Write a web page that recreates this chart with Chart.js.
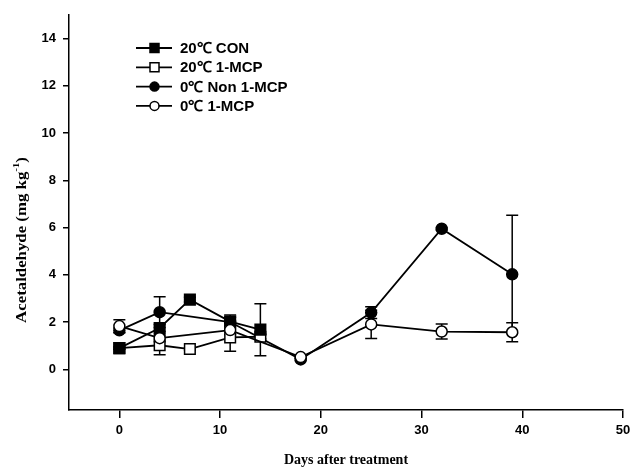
<!DOCTYPE html>
<html>
<head>
<meta charset="utf-8">
<script src="https://cdn.jsdelivr.net/npm/chart.js@4.4.0/dist/chart.umd.min.js"></script>
<style>
  html, body { margin: 0; padding: 0; background: #fff; }
</style>
</head>
<body>
<canvas id="myChart" width="632" height="469"></canvas>
<script>
// values
const seriesNames = ['20℃ CON', '20℃ 1-MCP', '0℃ Non 1-MCP', '0℃ 1-MCP'];

const days20 = [0, 4, 7, 11, 14];
const days0 = [0, 4, 11, 18, 25, 32, 39];

const con20 = [0.9, 1.75, 2.95, 2.02, 1.68];
const con20Err = [0.05, 0.15, 0.1, 0.28, 1.1];
const mcp20 = [0.9, 1.02, 0.86, 1.35, 1.38];
const mcp20Err = [0.05, 0.4, 0.05, 0.58, 0.1];
const non0 = [1.65, 2.42, 2.0, 0.42, 2.4, 5.95, 4.02];
const non0Err = [0.1, 0.65, 0.2, 0.05, 0.25, 0.05, 2.5];
const mcp0 = [1.83, 1.32, 1.66, 0.52, 1.9, 1.6, 1.57];
const mcp0Err = [0.27, 0.15, 0.2, 0.05, 0.6, 0.32, 0.4];

const xTicks = [0, 10, 20, 30, 40, 50];
const yTicks = [0, 2, 4, 6, 8, 10, 12, 14];

const points = (days, vals) => days.map((d, i) => ({ x: d, y: vals[i] }));

const makeSet = (label, days, vals, errs, style, filled, radius, order) => ({
  label: label,
  data: points(days, vals),
  errors: errs,
  borderColor: '#000',
  borderWidth: 1.8,
  pointStyle: style,
  pointRadius: radius,
  pointBorderWidth: 1.5,
  pointBorderColor: '#000',
  pointBackgroundColor: filled ? '#000' : '#fff',
  fill: false,
  tension: 0,
  order: order
});

const datasets = [
  makeSet(seriesNames[0], days20, con20, con20Err, 'rect', true, 7.5, 1),
  makeSet(seriesNames[1], days20, mcp20, mcp20Err, 'rect', false, 7.5, 1),
  makeSet(seriesNames[2], days0, non0, non0Err, 'circle', true, 5.5, 1),
  makeSet(seriesNames[3], days0, mcp0, mcp0Err, 'circle', false, 5.5, 0)
];

/**
 * error bars drawn under the markers
 */
const errorBars = {
  id: 'errorBars',
  beforeDatasetsDraw(chart) {
    const { ctx, scales: { x, y } } = chart;
    ctx.save();
    ctx.strokeStyle = '#000';
    ctx.lineWidth = 1.5;
    chart.data.datasets.forEach(ds => {
      ds.data.forEach((p, i) => {
        const e = ds.errors[i];
        if (!e) return;
        const px = x.getPixelForValue(p.x);
        const top = y.getPixelForValue(p.y + e);
        const bot = y.getPixelForValue(p.y - e);
        ctx.beginPath();
        ctx.moveTo(px, top); ctx.lineTo(px, bot);
        ctx.moveTo(px - 6, top); ctx.lineTo(px + 6, top);
        ctx.moveTo(px - 6, bot); ctx.lineTo(px + 6, bot);
        ctx.stroke();
      });
    });
    ctx.restore();
  }
};

/**
 * legend inside the plot + y title with superscript
 */
const insideLegend = {
  id: 'insideLegend',
  afterDraw(chart) {
    const ctx = chart.ctx;
    ctx.save();
    chart.data.datasets.forEach((ds, i) => {
      const ry = 48 + i * 19.3;
      ctx.strokeStyle = '#000';
      ctx.lineWidth = 1.8;
      ctx.beginPath();
      ctx.moveTo(136, ry); ctx.lineTo(172, ry);
      ctx.stroke();
      ctx.fillStyle = ds.pointBackgroundColor;
      ctx.lineWidth = 1.5;
      ctx.beginPath();
      if (ds.pointStyle === 'rect') {
        ctx.rect(150, ry - 4.5, 9, 9);
      } else {
        ctx.arc(154.5, ry, 4.5, 0, Math.PI * 2);
      }
      ctx.fill();
      ctx.stroke();
      ctx.fillStyle = '#000';
      ctx.font = 'bold 15px "Liberation Sans", Arial, sans-serif';
      ctx.textBaseline = 'middle';
      ctx.textAlign = 'left';
      ctx.fillText(ds.label, 180, ry + 1);
    });

    // y axis title, a bit stretched along its length like the original
    ctx.translate(22, 240);
    ctx.rotate(-Math.PI / 2);
    ctx.scale(1.2, 1);
    ctx.fillStyle = '#000';
    ctx.textBaseline = 'middle';
    ctx.textAlign = 'left';
    const main = 'Acetaldehyde (mg kg';
    const sup = '-1';
    const end = ')';
    const f1 = 'bold 14px "Liberation Serif", "Times New Roman", serif';
    const f2 = 'bold 9px "Liberation Serif", "Times New Roman", serif';
    ctx.font = f1;
    const w1 = ctx.measureText(main).width;
    const w3 = ctx.measureText(end).width;
    ctx.font = f2;
    const w2 = ctx.measureText(sup).width;
    let sx = -(w1 + w2 + w3) / 2;
    ctx.font = f1;
    ctx.fillText(main, sx, 0);
    ctx.font = f2;
    ctx.fillText(sup, sx + w1, -5);
    ctx.font = f1;
    ctx.fillText(end, sx + w1 + w2, 0);
    ctx.restore();
  }
};

const tickFont = { family: '"Liberation Sans", Arial, sans-serif', weight: 'bold', size: 13 };

const config = {
  type: 'line',
  data: { datasets: datasets },
  options: {
    responsive: false,
    animation: false,
    layout: { padding: { top: 12, right: 8, left: 0, bottom: 0 } },
    plugins: {
      legend: { display: false },
      tooltip: { enabled: false }
    },
    scales: {
      x: {
        type: 'linear',
        min: -5,
        max: 50,
        afterBuildTicks: s => { s.ticks = xTicks.map(v => ({ value: v })); },
        afterFit: s => { s.height = 59; s.paddingRight = 0; s.paddingLeft = 0; },
        grid: { drawOnChartArea: false, drawTicks: true, tickLength: 8, color: '#000', lineWidth: 1.5 },
        border: { display: true, color: '#000', width: 1.5 },
        ticks: { color: '#000', font: tickFont, padding: 5, maxRotation: 0 },
        title: {
          display: true,
          text: 'Days after treatment',
          color: '#000',
          font: { family: '"Liberation Serif", "Times New Roman", serif', weight: 'bold', size: 14 },
          padding: { top: 0, bottom: 0 }
        }
      },
      y: {
        type: 'linear',
        min: -1.72,
        max: 15,
        afterBuildTicks: s => { s.ticks = yTicks.map(v => ({ value: v })); },
        afterFit: s => { s.width = 69; },
        grid: { drawOnChartArea: false, drawTicks: true, tickLength: 6, color: '#000', lineWidth: 1.5 },
        border: { display: true, color: '#000', width: 1.5 },
        ticks: { color: '#000', font: tickFont, padding: 7 }
      }
    }
  },
  plugins: [errorBars, insideLegend]
};

const myChart = new Chart(document.getElementById('myChart'), config);
</script>
</body>
</html>
